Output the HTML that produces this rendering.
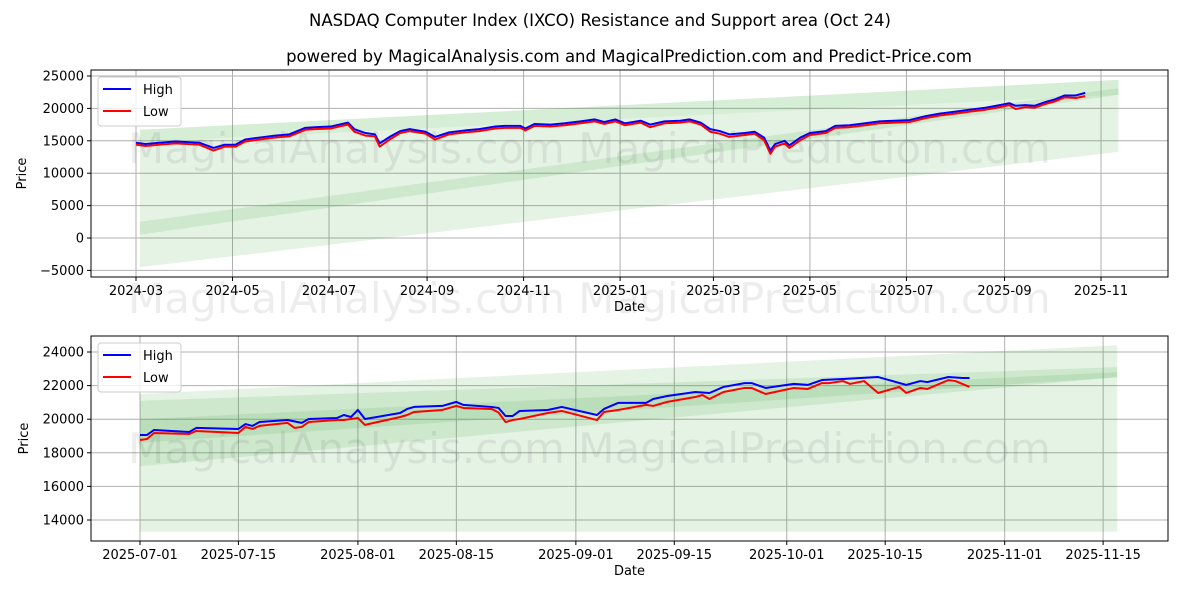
<!DOCTYPE html>
<html><head><meta charset="utf-8">
<style>
body{margin:0;background:#fff;}
svg text{font-family:"DejaVu Sans","Liberation Sans",sans-serif;}
</style></head>
<body>
<svg id="c" width="1200" height="600" xmlns="http://www.w3.org/2000/svg">
<rect width="1200" height="600" fill="#fff"/>
<text x="600" y="26" text-anchor="middle" font-size="16.5">NASDAQ Computer Index (IXCO) Resistance and Support area (Oct 24)</text>
<text x="629" y="62" text-anchor="middle" font-size="16.5">powered by MagicalAnalysis.com and MagicalPrediction.com and Predict-Price.com</text>
<g id="top"></g>
<g id="bot"></g>
</svg>
<script>
// ---- top panel data (days since 2024-03-01) ----
const topDays=[0,6,15,25,40,49,56,63,69,78,88,97,107,113,123,132,134,138,145,151,154,161,167,173,183,189,198,208,217,227,233,243,246,252,262,271,281,290,296,303,309,319,325,334,344,350,357,363,369,375,385,391,397,401,404,410,413,420,426,436,442,451,461,470,480,489,499,508,518,527,537,546,552,556,562,568,575,581,587,594,600];
const topHigh=[14700,14500,14700,14900,14700,13900,14400,14400,15200,15500,15800,16000,17000,17100,17200,17700,17800,16800,16200,16000,14600,15700,16500,16800,16400,15600,16300,16600,16800,17200,17300,17300,16900,17600,17500,17700,18000,18300,17900,18300,17700,18100,17500,18000,18100,18300,17800,16800,16500,16000,16200,16400,15500,13500,14500,15000,14300,15500,16200,16500,17300,17400,17700,18000,18100,18200,18800,19200,19500,19800,20100,20500,20800,20400,20500,20400,21000,21400,22000,22000,22400];
const topLow=[14400,14200,14400,14600,14400,13500,14100,14100,14900,15200,15500,15700,16700,16800,16900,17400,17500,16400,15800,15700,14100,15300,16200,16500,16100,15200,16000,16300,16500,16900,17000,17000,16600,17300,17200,17400,17700,18000,17600,18000,17400,17800,17100,17700,17800,18000,17500,16400,16100,15600,15900,16100,15100,13000,14100,14600,13900,15100,15900,16200,17000,17100,17400,17700,17800,17900,18500,18900,19200,19500,19800,20200,20500,19900,20200,20100,20700,21100,21700,21600,21900];
const topTicks=["2024-03","2024-05","2024-07","2024-09","2024-11","2025-01","2025-03","2025-05","2025-07","2025-09","2025-11"];
const topTickDays=[0,61,122,184,245,306,365,426,487,549,610];
const topYTicks=[-5000,0,5000,10000,15000,20000,25000];
// bands: [startTop,startBottom,endTop,endBottom]
const topBandStart=2.5, topBandEnd=621;
const topBandOuter=[16700,-4500,24400,13300];
const topBandUpper=[16700,14800,24400,22100];
const topBandLower=[2500,500,23100,22100];

// ---- bottom panel data (days since 2025-07-01) ----
const botHighDays=[0,1,2,7,8,14,15,16,17,21,23,24,28,29,30,31,32,37,38,39,43,45,46,50,51,52,53,54,58,60,65,66,68,72,73,75,79,81,83,86,87,89,93,95,97,100,105,109,111,112,115,117,118];
const botHigh=[19060,19060,19360,19240,19480,19420,19710,19600,19830,19950,19780,20010,20070,20250,20130,20550,20010,20370,20610,20730,20790,21030,20850,20730,20670,20190,20190,20490,20550,20730,20250,20610,20970,20970,21200,21380,21620,21560,21920,22150,22150,21860,22100,22040,22330,22390,22510,22040,22270,22210,22510,22450,22450];
const botLowDays=[0,1,2,7,8,14,15,16,17,21,22,23,24,28,29,30,31,32,37,38,39,43,45,46,50,51,52,53,54,58,60,65,66,68,72,73,75,79,80,81,83,86,87,89,93,95,97,98,100,101,103,105,108,109,111,112,115,116,118];
const botLow=[18760,18820,19180,19120,19300,19180,19540,19420,19600,19780,19480,19540,19830,19950,19950,20010,20070,19660,20130,20250,20430,20550,20790,20670,20610,20400,19830,19950,20010,20370,20490,19950,20430,20550,20850,20790,21030,21320,21440,21200,21620,21860,21860,21500,21860,21800,22150,22150,22270,22100,22270,21560,21920,21560,21860,21800,22330,22270,21920];
const botTicks=["2025-07-01","2025-07-15","2025-08-01","2025-08-15","2025-09-01","2025-09-15","2025-10-01","2025-10-15","2025-11-01","2025-11-15"];
const botTickDays=[0,14,31,45,62,76,92,106,123,137];
const botYTicks=[14000,16000,18000,20000,22000,24000];
const botBandStart=0, botBandEnd=139;
const botBandOuter=[21500,13300,24400,13300];
const botBandMid=[21100,17200,23100,22500];
const botBandInner=[20000,18600,22800,22500];

const NS="http://www.w3.org/2000/svg";
function mk(parent,tag,attrs){const e=document.createElementNS(NS,tag);for(const k in attrs)e.setAttribute(k,attrs[k]);parent.appendChild(e);return e;}

function panel(g,P){
  const X=d=>P.x0+d*P.kx, Y=v=>P.y0+(v-P.v0)*P.ky;
  P.xt.forEach((d,i)=>{
    const l=mk(g,'line',{x1:X(d),x2:X(d),y1:P.top,y2:P.bottom,stroke:'#b0b0b0','stroke-width':1});
    
    
    const t=mk(g,'line',{x1:X(d),x2:X(d),y1:P.bottom,y2:P.bottom+4,stroke:'#000'});
    
    
    const tx=mk(g,'text',{x:X(d),y:P.bottom+18,'text-anchor':'middle','font-size':13});
    tx.textContent=P.xl[i];
    
    
  });
  P.yt.forEach(v=>{
    const l=mk(g,'line',{x1:P.left,x2:P.right,y1:Y(v),y2:Y(v),stroke:'#b0b0b0','stroke-width':1});
    
    
    const t=mk(g,'line',{x1:P.left-4,x2:P.left,y1:Y(v),y2:Y(v),stroke:'#000'});
    
    
    const tx=mk(g,'text',{x:P.left-7,y:Y(v)+4.5,'text-anchor':'end','font-size':13});
    tx.textContent=v<0?'\u2212'+(-v):String(v);
    
    
  });
  P.bands.forEach(([b,op])=>{
    const x1=X(P.bs),x2=X(P.be);
    const p=mk(g,'polygon',{points:`${x1},${Y(b[0])} ${x2},${Y(b[2])} ${x2},${Y(b[3])} ${x1},${Y(b[1])}`,fill:'#2ca02c','fill-opacity':op});
    
    
  });
  const w=mk(g,'text',{x:P.wx,y:P.wy,'font-size':42,fill:'#000','fill-opacity':0.07});
  w.textContent='MagicalAnalysis.com   MagicalPrediction.com';
  
  
  const line=(ds,vs,col,name)=>{
    const pl=mk(g,'polyline',{points:ds.map((d,i)=>X(d)+','+Y(vs[i])).join(' '),fill:'none',stroke:col,'stroke-width':2,'stroke-linejoin':'round'});
    
    
  };
  line(P.hd,P.hv,'#0000ff','high-line');
  line(P.ld,P.lv,'#ff0000','low-line');
  const f=mk(g,'rect',{x:P.left,y:P.top,width:P.right-P.left,height:P.bottom-P.top,fill:'none',stroke:'#000','stroke-width':1});
  
  
  const xt=mk(g,'text',{x:(P.left+P.right)/2,y:P.bottom+34,'text-anchor':'middle','font-size':13});
  xt.textContent='Date';
  
  
  const cy=(P.top+P.bottom)/2;
  const yt=mk(g,'text',{x:P.ytx,y:cy,'text-anchor':'middle','font-size':13,transform:`rotate(-90 ${P.ytx} ${cy})`});
  yt.textContent='Price';
  
  
  const lg=mk(g,'g',{});
  
  
  mk(lg,'rect',{x:P.left+7,y:P.top+7,width:83,height:49,rx:3,fill:'#fff','fill-opacity':0.8,stroke:'#ccc'});
  [['High','#0000ff'],['Low','#ff0000']].forEach(([n,c],i)=>{
    const e=mk(lg,'g',{});
    
    
    const yy=P.top+19+i*22;
    mk(e,'line',{x1:P.left+12,x2:P.left+40,y1:yy,y2:yy,stroke:c,'stroke-width':2});
    const t=mk(e,'text',{x:P.left+52,y:yy+5,'font-size':13});t.textContent=n;
  });
}

panel(document.getElementById('top'),{left:91,right:1168,top:70,bottom:277,x0:136,kx:1.582,y0:238,v0:0,ky:-162/25000,
  xt:topTickDays,xl:topTicks,yt:topYTicks,hd:topDays,hv:topHigh,ld:topDays,lv:topLow,
  bs:topBandStart,be:topBandEnd,bands:[[topBandOuter,0.12],[topBandUpper,0.08],[topBandLower,0.12]],wx:128,wy:163,ytx:26});
panel(document.getElementById('bot'),{left:91,right:1168,top:336,bottom:541,x0:140,kx:7.03,y0:520,v0:14000,ky:-168/10000,
  xt:botTickDays,xl:botTicks,yt:botYTicks,hd:botHighDays,hv:botHigh,ld:botLowDays,lv:botLow,
  bs:botBandStart,be:botBandEnd,bands:[[botBandOuter,0.12],[botBandMid,0.12],[botBandInner,0.12]],wx:128,wy:463,ytx:28});
const wm=mk(document.getElementById('c'),'text',{x:128,y:313,'font-size':42,fill:'#000','fill-opacity':0.07});
wm.textContent='MagicalAnalysis.com   MagicalPrediction.com';


</script>
</body></html>
